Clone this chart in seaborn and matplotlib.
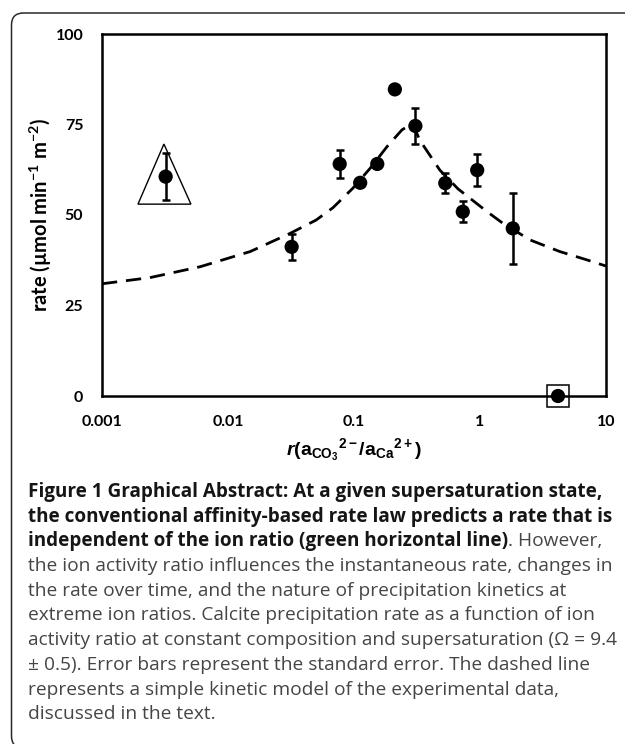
import numpy as np
import pandas as pd
import matplotlib
matplotlib.use("Agg")
import matplotlib.pyplot as plt
import seaborn as sns
from matplotlib.patches import FancyBboxPatch, Polygon
from matplotlib.transforms import IdentityTransform

# ---------------- data ----------------
ratio = [0.0032, 0.032, 0.077, 0.112, 0.153, 0.211, 0.307, 0.53, 0.73, 0.95, 1.82, 4.16]
rate = [60.6, 41.2, 64.1, 58.9, 64.1, 84.7, 74.6, 58.8, 50.9, 62.4, 46.3, 0.0]
rate_err = [6.5, 3.6, 3.9, 0.0, 0.0, 0.0, 4.9, 2.7, 2.9, 4.5, 9.7, 0.0]

model_x = [0.001, 0.0024, 0.006, 0.015, 0.031, 0.05, 0.068, 0.098, 0.135, 0.183, 0.24, 0.29,
           0.335, 0.48, 0.67, 1.14, 1.52, 2.5, 4.3, 7.06, 10]
model_y = [31.0, 32.7, 35.7, 39.9, 44.9, 48.6, 52.0, 57.4, 63.0, 68.9, 73.5, 75.3,
           70.5, 62.4, 57.2, 50.9, 47.7, 43.1, 39.9, 37.6, 35.9]

triangle_x = [0.00193, 0.00508, 0.0031]
triangle_y = [53.0, 53.0, 69.6]
boxed_x = [4.16]
boxed_y = [0.0]

x_ticks = [0.001, 0.01, 0.1, 1, 10]
x_tick_labels = ["0.001", "0.01", "0.1", "1", "10"]
y_ticks = [0, 25, 50, 75, 100]
y_tick_labels = ["0", "25", "50", "75", "100"]

caption_lines = [
    ("Figure 1 Graphical Abstract: At a given supersaturation state,", ""),
    ("the conventional affinity-based rate law predicts a rate that is", ""),
    ("independent of the ion ratio (green horizontal line)", ". However,"),
    ("", "the ion activity ratio influences the instantaneous rate, changes in"),
    ("", "the rate over time, and the nature of precipitation kinetics at"),
    ("", "extreme ion ratios. Calcite precipitation rate as a function of ion"),
    ("", "activity ratio at constant composition and supersaturation (\u03a9 = 9.4"),
    ("", "\u00b1 0.5). Error bars represent the standard error. The dashed line"),
    ("", "represents a simple kinetic model of the experimental data,"),
    ("", "discussed in the text."),
]

pts = pd.DataFrame({"ratio": ratio, "rate": rate})
model = pd.DataFrame({"ratio": model_x, "rate": model_y})

# ---------------- style ----------------
sns.set_theme(style="white")
plt.rcParams["font.family"] = ["Lato", "DejaVu Sans"]
plt.rcParams["mathtext.fontset"] = "custom"
plt.rcParams["mathtext.rm"] = "Liberation Sans"
plt.rcParams["mathtext.it"] = "Liberation Sans:italic:bold"
plt.rcParams["mathtext.bf"] = "Liberation Sans:bold"
plt.rcParams["mathtext.default"] = "regular"

W, H = 625, 744
fig = plt.figure(figsize=(W / 100, H / 100), dpi=100)
fig.patch.set_facecolor("white")

# outer rounded frame
frame = FancyBboxPatch((11.5, -4), 650, H - 13 + 4,
                       boxstyle="round,pad=0,rounding_size=12",
                       transform=IdentityTransform(), facecolor="none",
                       edgecolor="#2a2a2a", linewidth=1.1)
fig.patches.append(frame)

ax_l, ax_r, ax_t, ax_b = 102, 606, 34, 396
ax = fig.add_axes([ax_l / W, 1 - ax_b / H, (ax_r - ax_l) / W, (ax_b - ax_t) / H])
ax.set_facecolor("white")

# model curve
sns.lineplot(data=model, x="ratio", y="rate", ax=ax, color="black",
             linewidth=2.0, sort=True, estimator=None)
ax.lines[-1].set_dashes((5.5, 3.2))

# error bars
ax.errorbar(ratio, rate, yerr=rate_err, fmt="none", ecolor="black",
            elinewidth=1.8, capsize=3, capthick=1.8, zorder=3)
# points
sns.scatterplot(data=pts, x="ratio", y="rate", ax=ax, color="black", s=105,
                edgecolor="none", zorder=4)
for coll in ax.collections:
    coll.set_clip_on(False)

# triangle highlight
ax.add_patch(Polygon(list(zip(triangle_x, triangle_y)), closed=True,
                     facecolor="none", edgecolor="black", linewidth=1.0, zorder=2))
# boxed zero point
ax.plot(boxed_x, boxed_y, marker="s", markersize=16.5, markerfacecolor="none",
        markeredgecolor="black", markeredgewidth=1.1, linestyle="none",
        clip_on=False, zorder=5)

ax.set_xscale("log")
ax.set_xlim(0.001, 10)
ax.set_ylim(0, 100)
ax.set_xticks(x_ticks)
ax.set_xticklabels(x_tick_labels)
ax.set_yticks(y_ticks)
ax.set_yticklabels(y_tick_labels)
ax.minorticks_off()
ax.tick_params(axis="both", which="major", direction="in", length=4, width=1.8,
               color="black", pad=13.5, labelsize=11.5, labelcolor="black")
for lab in ax.get_xticklabels() + ax.get_yticklabels():
    lab.set_fontweight("bold")
for sp in ax.spines.values():
    sp.set_visible(True)
    sp.set_color("black")
    sp.set_linewidth(1.8)

ax.set_ylabel("rate (\u00b5mol min$^{-1}$ m$^{-2}$)", fontsize=14.5, fontweight="bold",
              color="black", labelpad=1)
ax.set_xlabel(r"$\mathit{r}\mathbf{(a_{CO_3}{}^{2-}/a_{Ca}{}^{2+})}$", fontsize=14,
              color="black", labelpad=5)

# ---------------- caption ----------------
cap_font = ["Open Sans", "DejaVu Sans"]
x0 = 28
x_end = 613
y_first = 492
dy = 24.7
fig.canvas.draw()
renderer = fig.canvas.get_renderer()


def fit_size(text, weight):
    probe = fig.text(0, 0, text, family=cap_font, size=10, weight=weight)
    w = probe.get_window_extent(renderer=renderer).width
    probe.remove()
    return 10 * (x_end - x0) / w


reg_size = fit_size(caption_lines[3][1], "normal")
bold_size = fit_size(caption_lines[1][0], "bold")

for i, (bold_txt, reg_txt) in enumerate(caption_lines):
    yc = H - (y_first + i * dy)
    xpos = x0
    if bold_txt:
        t = fig.text(xpos / W, yc / H, bold_txt, family=cap_font, weight="bold",
                     size=bold_size, color="#151515", va="center", ha="left")
        bb = t.get_window_extent(renderer=renderer)
        xpos = bb.x1
    if reg_txt:
        fig.text(xpos / W, yc / H, reg_txt, family=cap_font, weight="normal",
                 size=reg_size, color="#454545", va="center", ha="left")

fig.savefig("out.png", dpi=100, facecolor="white")
